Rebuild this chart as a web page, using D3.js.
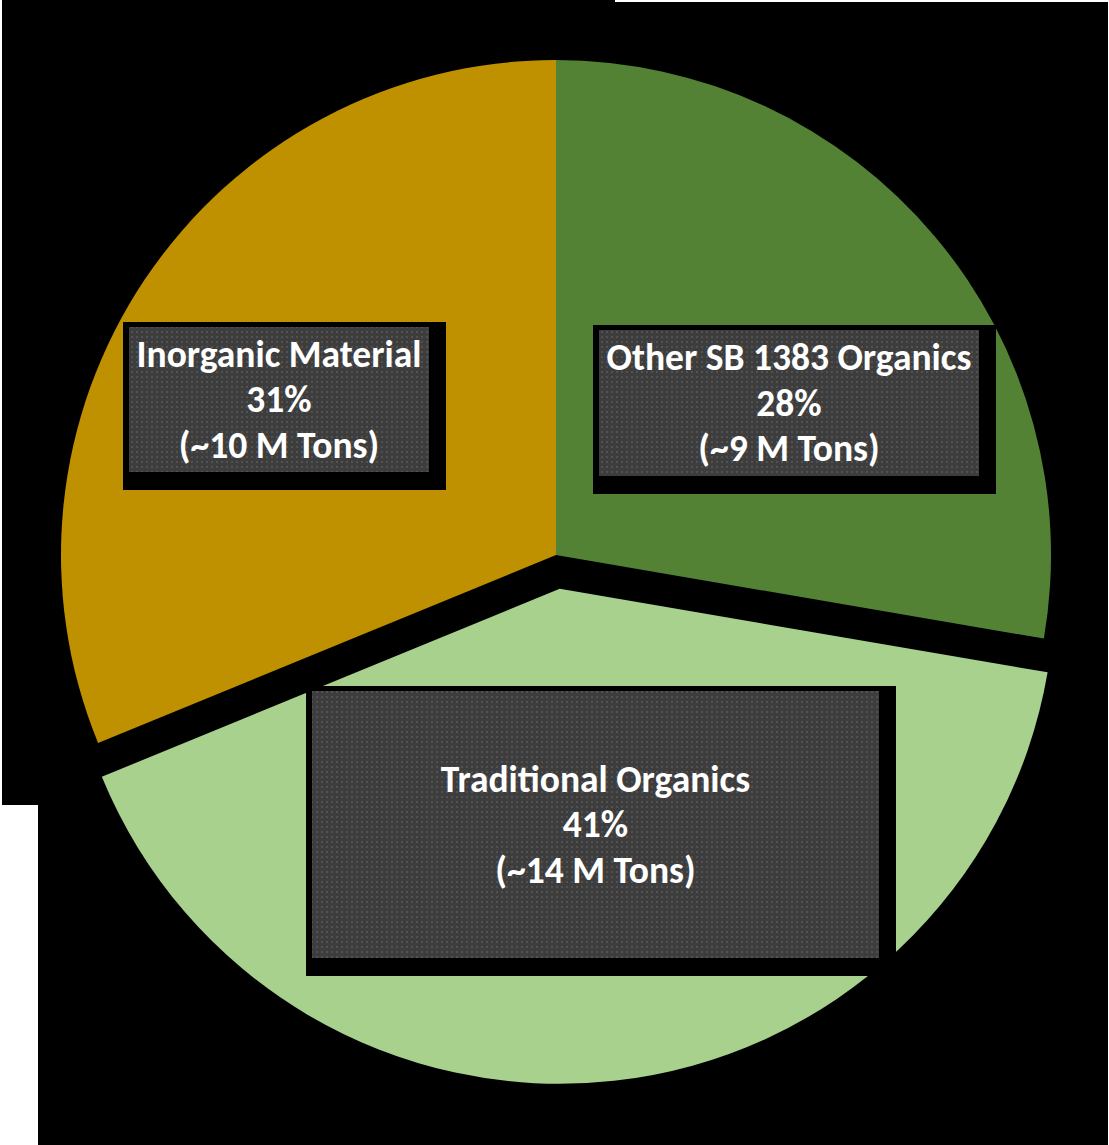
<!DOCTYPE html>
<html>
<head>
<meta charset="utf-8">
<script src="https://cdn.jsdelivr.net/npm/d3@7/dist/d3.min.js"></script>
<style>
    body { margin: 0; background: #ffffff; }
</style>
</head>
<body>
<div id="container-pie-chart"></div>
<script>
// Categorias en orden horario desde las 12
const categories = ['Other SB 1383 Organics', 'Traditional Organics', 'Inorganic Material'];
const shares = [27.7, 41.1, 31.2];
const pctLabels = ['28%', '41%', '31%'];
const tonLabels = ['(~9 M Tons)', '(~14 M Tons)', '(~10 M Tons)'];
const explodedCategory = 'Traditional Organics';

function plotPieChart() {
    const width = 1109,
        height = 1145,
        cx = 556, cy = 555,
        radius = 495,
        explodeOffset = 34;

    // Posicion de las cajas de etiquetas (movidas a mano en el original)
    const labelBoxes = {
        'Other SB 1383 Organics': { x: 599, y: 330, w: 380, h: 146 },
        'Traditional Organics': { x: 312, y: 691, w: 567, h: 267 },
        'Inorganic Material': { x: 129, y: 327, w: 300, h: 145 }
    };

    const svg = d3.select("#container-pie-chart")
        .append("svg")
        .attr("width", width)
        .attr("height", height);

    // patron punteado de las cajas
    const pattern = svg.append("defs").append("pattern")
        .attr("id", "dots")
        .attr("patternUnits", "userSpaceOnUse")
        .attr("width", 5)
        .attr("height", 5);
    pattern.append("rect").attr("width", 5).attr("height", 5).attr("fill", "#3d3d3d");
    pattern.append("rect").attr("x", 1).attr("y", 1).attr("width", 2).attr("height", 2).attr("fill", "#525252");

    // Fondo negro (dos rectangulos)
    svg.append("rect").attr("x", 2).attr("y", 0).attr("width", 613).attr("height", 805).attr("fill", "#000");
    svg.append("rect").attr("x", 38).attr("y", 2).attr("width", 1070).attr("height", 1143).attr("fill", "#000");

    const data = categories.map((c, i) => ({ name: c, value: shares[i], pct: pctLabels[i], tons: tonLabels[i] }));

    const color = d3.scaleOrdinal()
        .domain(categories)
        .range(['#548235', '#a9d18e', '#bf9000']);

    const pie = d3.pie()
        .sort(null)
        .value(d => d.value);

    const arc = d3.arc()
        .innerRadius(0)
        .outerRadius(radius);

    const g = svg.append("g")
        .attr("transform", `translate(${cx}, ${cy})`);

    g.selectAll("path")
        .data(pie(data))
        .join("path")
        .attr("transform", function (d) {
            if (d.data.name !== explodedCategory) return null;
            const mid = (d.startAngle + d.endAngle) / 2;
            return `translate(${Math.sin(mid) * explodeOffset}, ${-Math.cos(mid) * explodeOffset})`;
        })
        .attr("fill", d => color(d.data.name))
        .attr("d", arc);

    // Cajas de etiquetas
    const labels = svg.selectAll("g.label")
        .data(data)
        .join("g")
        .attr("class", "label");

    labels.append("rect")
        .attr("x", d => labelBoxes[d.name].x - 6)
        .attr("y", d => labelBoxes[d.name].y - 5)
        .attr("width", d => labelBoxes[d.name].w + 23)
        .attr("height", d => labelBoxes[d.name].h + 23)
        .attr("fill", "#000");

    labels.append("rect")
        .attr("x", d => labelBoxes[d.name].x)
        .attr("y", d => labelBoxes[d.name].y)
        .attr("width", d => labelBoxes[d.name].w)
        .attr("height", d => labelBoxes[d.name].h)
        .attr("fill", "url(#dots)");

    const lineH = 45.5;
    labels.each(function (d) {
        const b = labelBoxes[d.name];
        const midX = b.x + b.w / 2,
            base = b.y + b.h / 2 + 12.5;
        const lines = [d.name, d.pct, d.tons];
        d3.select(this).selectAll("text")
            .data(lines)
            .join("text")
            .attr("x", midX)
            .attr("y", (t, i) => base + (i - 1) * lineH)
            .attr("text-anchor", "middle")
            .style("font-family", "Carlito, Lato, sans-serif")
            .style("font-weight", "bold")
            .style("font-size", "37.5px")
            .style("fill", "#ffffff")
            .text(t => t);
    });
}

plotPieChart();
</script>
</body>
</html>
